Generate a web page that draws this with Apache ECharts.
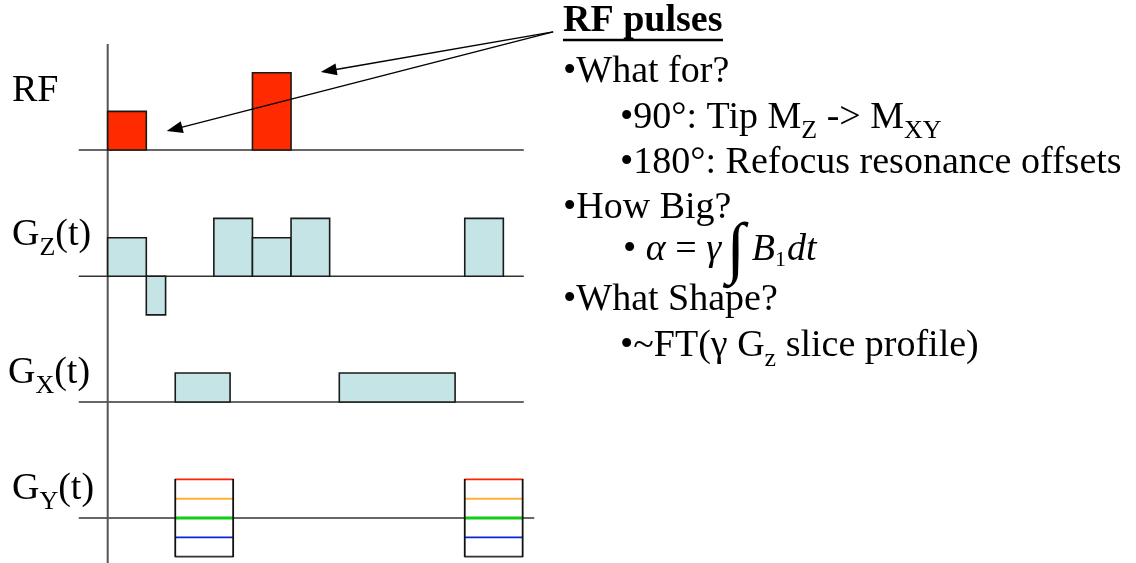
<!DOCTYPE html>
<html><head><meta charset="utf-8">
<script src="https://cdn.jsdelivr.net/npm/echarts@6/dist/echarts.min.js"></script>
<style>html,body{margin:0;padding:0;background:#fff}#c{width:1136px;height:563px}</style>
</head><body><div id="c"></div>
<script>
// ---------------- data ----------------
const timeRange = [-0.75, 11.05];
const baselineSpan = [-0.75, 10.78];
const gyBaselineSpan = [-0.75, 11.05];
// [start, end, amplitude]
const rfPulses = [[0, 1, 1], [3.75, 4.75, 2]];
const gzLobes = [[0, 1, 1], [1, 1.5, -1], [2.75, 3.75, 1.5], [3.75, 4.75, 1], [4.75, 5.75, 1.5], [9.25, 10.25, 1.5]];
const gxLobes = [[1.75, 3.17, 0.75], [6.0, 9.0, 0.75]];
// [start, end]
const gyTables = [[1.75, 3.25], [9.25, 10.75]];
const gyLevels = [1, 0.5, 0, -0.5, -1];
// arrows in RF channel units: [fromT, fromAmp, toT, toAmp]
const arrows = [[11.54, 3.06, 5.52, 2.02], [11.54, 3.06, 1.53, 0.49]];
const channelNames = ['RF', 'Z', 'X', 'Y'];
const titleText = 'RF pulses';

// ---------------- layout / style ----------------
const U = 38.6;          // px per unit
const T0 = 107.7;        // pixel x of t = 0
const gridLeft = T0 + timeRange[0] * U;
const gridWidth = (timeRange[1] - timeRange[0]) * U;
const chans = [
  { base: 150.0, min: -1, max: 2.5 },
  { base: 276.3, min: -1.5, max: 2 },
  { base: 402.0, min: -1.5, max: 2 },
  { base: 518.0, min: -1.2, max: 1.2 }
];
const levelColors = ['#ff2200', '#ffae3a', '#14cc14', '#0a28cc', '#333333'];
const levelWidths = [1.8, 2, 2.8, 1.8, 1.8];
const SERIF = '"Liberation Serif", "Times New Roman", serif';

const grids = chans.map(c => ({
  left: gridLeft, width: gridWidth, top: c.base - c.max * U, height: (c.max - c.min) * U, outerBoundsMode: 'none'
}));
grids.push({ left: gridLeft, width: gridWidth, top: 44, height: 519, outerBoundsMode: 'none' });

const xAxes = grids.map((g, i) => ({ type: 'value', gridIndex: i, min: timeRange[0], max: timeRange[1], show: false }));
const yAxes = chans.map((c, i) => ({ type: 'value', gridIndex: i, min: c.min, max: c.max, show: false }));
yAxes.push({ type: 'value', gridIndex: 4, min: 0, max: 1, show: false });

function baseline(gi, span) {
  return {
    type: 'line', xAxisIndex: gi, yAxisIndex: gi, data: [[span[0], 0], [span[1], 0]],
    symbol: 'none', silent: true, z: 1, lineStyle: { color: '#333', width: 1.5 }
  };
}
function rectSeries(gi, data, fill) {
  return {
    type: 'custom', xAxisIndex: gi, yAxisIndex: gi, data, clip: false, z: 3, silent: true,
    encode: { x: [0, 1], y: 2 },
    renderItem(params, api) {
      const a = api.coord([api.value(0), 0]);
      const b = api.coord([api.value(1), api.value(2)]);
      return {
        type: 'rect',
        shape: { x: Math.min(a[0], b[0]), y: Math.min(a[1], b[1]), width: Math.abs(b[0] - a[0]), height: Math.abs(b[1] - a[1]) },
        style: { fill, stroke: '#1a1a1a', lineWidth: 1.6 }
      };
    }
  };
}
const gySeries = {
  type: 'custom', xAxisIndex: 3, yAxisIndex: 3, data: gyTables, clip: false, z: 3, silent: true,
  encode: { x: [0, 1] },
  renderItem(params, api) {
    const t0 = api.value(0), t1 = api.value(1);
    const ch = [];
    gyLevels.forEach((lv, i) => {
      const p = api.coord([t0, lv]), q = api.coord([t1, lv]);
      ch.push({ type: 'line', shape: { x1: p[0], y1: p[1], x2: q[0], y2: q[1] },
        style: { stroke: levelColors[i], lineWidth: levelWidths[i] } });
    });
    const top = gyLevels[0], bot = gyLevels[gyLevels.length - 1];
    [t0, t1].forEach(t => {
      const p = api.coord([t, top]), q = api.coord([t, bot]);
      ch.push({ type: 'line', shape: { x1: p[0], y1: p[1] - 0.5, x2: q[0], y2: q[1] + 0.5 }, style: { stroke: '#111', lineWidth: 1.8 } });
    });
    return { type: 'group', children: ch };
  }
};
const arrowSeries = {
  type: 'custom', xAxisIndex: 0, yAxisIndex: 0, data: arrows, clip: false, z: 5, silent: true,
  encode: { x: [0, 2], y: [1, 3] },
  renderItem(params, api) {
    const s = api.coord([api.value(0), api.value(1)]);
    const e = api.coord([api.value(2), api.value(3)]);
    const dx = e[0] - s[0], dy = e[1] - s[1], L = Math.hypot(dx, dy), ux = dx / L, uy = dy / L;
    const hl = 16, hw = 6;
    const bx = e[0] - ux * hl, by = e[1] - uy * hl;
    return {
      type: 'group', children: [
        { type: 'line', shape: { x1: s[0], y1: s[1], x2: bx + ux * 2, y2: by + uy * 2 }, style: { stroke: '#000', lineWidth: 1.5 } },
        { type: 'polygon', shape: { points: [[e[0], e[1]], [bx - uy * hw, by + ux * hw], [bx + uy * hw, by - ux * hw]] }, style: { fill: '#000' } }
      ]
    };
  }
};
const timeAxisSeries = {
  type: 'line', xAxisIndex: 4, yAxisIndex: 4, data: [[0, 0], [0, 1]], symbol: 'none', silent: true, z: 2,
  lineStyle: { color: '#555', width: 2 }
};

// ---------------- text ----------------
const M = { fontSize: 38, fontFamily: SERIF, lineHeight: 40, verticalAlign: 'middle', fill: '#000' };
const S = { fontSize: 26, fontFamily: SERIF, lineHeight: 12, verticalAlign: 'middle', padding: [26, 0, 0, 0], fill: '#000' };
const I = { fontSize: 38, fontFamily: SERIF, fontStyle: 'italic', lineHeight: 40, verticalAlign: 'middle', fill: '#000' };
const richBase = { m: M, s: S, i: I,
  int: { fontSize: 68, fontFamily: SERIF, lineHeight: 40, verticalAlign: 'middle', padding: [4, 7, 0, 5], fill: '#000' },
  s1: { fontSize: 22, fontFamily: SERIF, lineHeight: 12, verticalAlign: 'middle', padding: [20, 1, 0, 0], fill: '#000' } };

function rtext(x, y, text) {
  return { type: 'text', x, y, silent: true,
    style: { text, rich: richBase, verticalAlign: 'middle', align: 'left', fill: '#000', font: '38px ' + SERIF } };
}
const labelY = [91, 235, 373, 489];
const graphics = [
  rtext(12, labelY[0], '{m|' + channelNames[0] + '}'),
  rtext(12, labelY[1], '{m|G}{s|' + channelNames[1] + '}{m|(t)}'),
  rtext(8, labelY[2], '{m|G}{s|' + channelNames[2] + '}{m|(t)}'),
  rtext(12, labelY[3], '{m|G}{s|' + channelNames[3] + '}{m|(t)}'),
  { type: 'text', x: 563, y: 21, silent: true,
    style: { text: titleText, font: 'bold 38px ' + SERIF, fill: '#000', verticalAlign: 'middle', align: 'left' } },
  { type: 'line', silent: true, shape: { x1: 563, y1: 40, x2: 723, y2: 40 }, style: { stroke: '#000', lineWidth: 2.5 } },
  rtext(563, 72, '{m|•What for?}'),
  rtext(620, 118, '{m|•90°: Tip M}{s|Z}{m| -> M}{s|XY}'),
  rtext(620, 163, '{m|•180°: Refocus resonance offsets}'),
  rtext(563, 208, '{m|•How Big?}'),
  rtext(623, 250, '{m|• }{i|α}{m| = }{i|γ}{int|∫}{i|B}{s1|1}{i|dt}'),
  rtext(563, 300, '{m|•What Shape?}'),
  rtext(620, 346, '{m|•~FT(γ G}{s|z}{m| slice profile)}')
];

const chart = echarts.init(document.getElementById('c'), null, { renderer: 'canvas' });
chart.setOption({
  animation: false,
  backgroundColor: '#fff',
  grid: grids,
  xAxis: xAxes,
  yAxis: yAxes,
  graphic: graphics,
  series: [
    timeAxisSeries,
    baseline(0, baselineSpan), baseline(1, baselineSpan), baseline(2, baselineSpan), baseline(3, gyBaselineSpan),
    rectSeries(0, rfPulses, '#ff2a00'),
    rectSeries(1, gzLobes, '#c4e4e6'),
    rectSeries(2, gxLobes, '#c4e4e6'),
    gySeries,
    arrowSeries
  ]
});
</script></body></html>
